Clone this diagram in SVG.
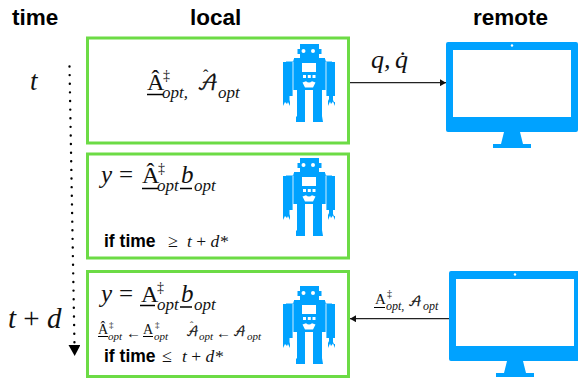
<svg xmlns="http://www.w3.org/2000/svg" width="578" height="380" viewBox="0 0 578 380">
<style>
text{font-family:"Liberation Serif","DejaVu Serif",serif;fill:#111}
.h{font-family:"Liberation Sans",Arial,sans-serif;font-weight:700;font-size:22.500px;fill:#000}
.c{font-family:"Liberation Sans",Arial,sans-serif;font-weight:700;font-size:17.500px;fill:#000}
.i{font-style:italic}
.s{font-family:"DejaVu Math TeX Gyre","Liberation Serif",serif;stroke:#111;stroke-width:.25}
.box{fill:#fff;stroke:#6cdb45;stroke-width:3}
.u{stroke:#000;fill:none}
.conn{stroke:#222;stroke-width:1.200;fill:none}
.blue{fill:#00a2ff}
</style>
<defs>
<marker id="ah" markerUnits="userSpaceOnUse" markerWidth="7" markerHeight="7" refX="6" refY="3.500" orient="auto"><path d="M0 0L6 3.500L0 7Z" fill="#111"/></marker>
<marker id="big" markerUnits="userSpaceOnUse" markerWidth="12" markerHeight="12" refX="1" refY="6" orient="auto"><path d="M0 0L11 6L0 12Z" fill="#000"/></marker>
<g id="robot">
<path class="blue" fill-rule="evenodd" d="M17 0H36V5H38.500V10H36V14H42V15.500H42.600V17.500H49V18H52V52H50V56L51 58H52V62L50 57.500L48 60L47 57.500L45 62V57L46 55V52H43.400V18H42.600V46H39V72L40 78H30V46H22V78H13V73L14 72V46H10.400V18H9.600V52H6.500V56L7 58V62L5 58L4 60L2 58L0 62V18H3V17.500H10.400V15.500H11V14H17V10H14.500V5H17ZM20.500 5A2 2 0 1 0 20.500 9A2 2 0 1 0 20.500 5ZM30 5A2 2 0 1 0 30 9A2 2 0 1 0 30 5ZM19 19V28H33V19ZM20 31V34H23V31ZM24.800 31V34H27.800V31ZM29.500 31V34H32.500V31ZM19.500 38.500L23 37.200Q26 40 29 37.200L32.500 38.500L30 43.500H22Z"/>
</g>
<g id="monitor">
<path class="blue" fill-rule="evenodd" d="M2 0H130A2 2 0 0 1 132 2V88A2 2 0 0 1 130 90H74L77 102H85V106H47V102H55L58 90H2A2 2 0 0 1 0 88V2A2 2 0 0 1 2 0ZM7 8V75H125V8Z"/>
<circle cx="66" cy="3.500" r="1.200" fill="#fff"/>
</g>
</defs>

<g id="headers">
<text class="h" x="12" y="25">time</text>
<text class="h" x="190" y="25">local</text>
<text class="h" x="473" y="25">remote</text>
</g>

<g id="time-axis">
<text class="i" x="30" y="90" font-size="27">t</text>
<text class="i" x="8" y="328" font-size="29">t <tspan font-style="normal">+</tspan> d</text>
</g>

<g id="connectors">
<path class="conn" d="M350 82.700H446" marker-end="url(#ah)"/>
<path class="conn" d="M449 318.700H350" marker-end="url(#ah)" stroke-width="1.400"/>
<path d="M69.500 66.500L74.500 346" fill="none" stroke="#000" stroke-width="2.400" stroke-linecap="round" stroke-dasharray="0 8.620" marker-end="url(#big)"/>
</g>

<g id="local-1">
<rect class="box" x="87.500" y="38" width="261" height="105"/>
<use href="#robot" x="283" y="44"/>
<text x="147" y="90" font-size="24">Â</text>
<path class="u" stroke-width="1.500" d="M147 94.500H163"/>
<text x="163" y="80" font-size="14">‡</text>
<text class="i" x="162" y="98" font-size="17">opt,</text>
<text x="203" y="81" font-size="16">ˆ</text>
<text class="s" x="197" y="90" font-size="20">𝒜</text>
<text class="i" x="218" y="98" font-size="17">opt</text>
</g>

<g id="local-2">
<rect class="box" x="87.500" y="154" width="261" height="104"/>
<use href="#robot" x="283" y="158"/>
<text class="i" x="101" y="183" font-size="25">y</text>
<text x="119" y="183" font-size="25">=</text>
<text x="142" y="183" font-size="24">Â</text>
<path class="u" stroke-width="1.500" d="M142 188.500H158M180 188.500H192"/>
<text x="158" y="173" font-size="14">‡</text>
<text class="i" x="157" y="191" font-size="17">opt</text>
<text class="i" x="181" y="183" font-size="25">b</text>
<text class="i" x="194" y="191" font-size="17">opt</text>
<text class="c" x="104" y="247">if time</text>
<text x="168" y="247" font-size="18">≥</text>
<text class="i" x="187" y="247" font-size="17.500">t <tspan font-style="normal">+</tspan> d*</text>
</g>

<g id="local-3">
<rect class="box" x="87.500" y="271.500" width="261" height="105"/>
<use href="#robot" x="283" y="286"/>
<text class="i" x="101" y="302" font-size="25">y</text>
<text x="119" y="302" font-size="25">=</text>
<text x="141" y="302" font-size="24">A</text>
<path class="u" stroke-width="1.500" d="M140 305.500H155M180 307H192"/>
<text x="157" y="292" font-size="14">‡</text>
<text class="i" x="157" y="310" font-size="17">opt</text>
<text class="i" x="181" y="302" font-size="25">b</text>
<text class="i" x="194" y="310" font-size="17">opt</text>
<text x="98" y="334" font-size="14">Â</text>
<path class="u" d="M98 336.500H108M143 336.500H153"/>
<text x="109" y="328" font-size="9">‡</text>
<text class="i" x="108" y="340" font-size="11">opt</text>
<text x="126" y="338" font-size="15">←</text>
<text x="143" y="334" font-size="14">A</text>
<text x="155" y="328" font-size="9">‡</text>
<text class="i" x="154" y="340" font-size="11">opt</text>
<text x="190" y="329" font-size="10">ˆ</text>
<text class="s" x="186" y="336" font-size="12">𝒜</text>
<text class="i" x="199" y="340" font-size="11">opt</text>
<text x="216" y="338" font-size="15">←</text>
<text class="s" x="233" y="336" font-size="12">𝒜</text>
<text class="i" x="247" y="340" font-size="11">opt</text>
<text class="c" x="104" y="362">if time</text>
<text x="162" y="362" font-size="18">≤</text>
<text class="i" x="182" y="362" font-size="17.500">t <tspan font-style="normal">+</tspan> d*</text>
</g>

<g id="remote-1">
<use href="#monitor" x="446" y="42"/>
<text class="i" x="371" y="68" font-size="26">q,</text>
<text class="i" x="395" y="68" font-size="26">q̇</text>
</g>

<g id="remote-2">
<use href="#monitor" x="449" y="271"/>
<text x="375" y="304" font-size="15">A</text>
<path class="u" d="M374 307.500H385"/>
<text x="387" y="297" font-size="10">‡</text>
<text class="i" x="386" y="310" font-size="12">opt,</text>
<text class="s" x="408" y="306" font-size="13">𝒜</text>
<text class="i" x="423" y="310" font-size="12">opt</text>
</g>
</svg>
